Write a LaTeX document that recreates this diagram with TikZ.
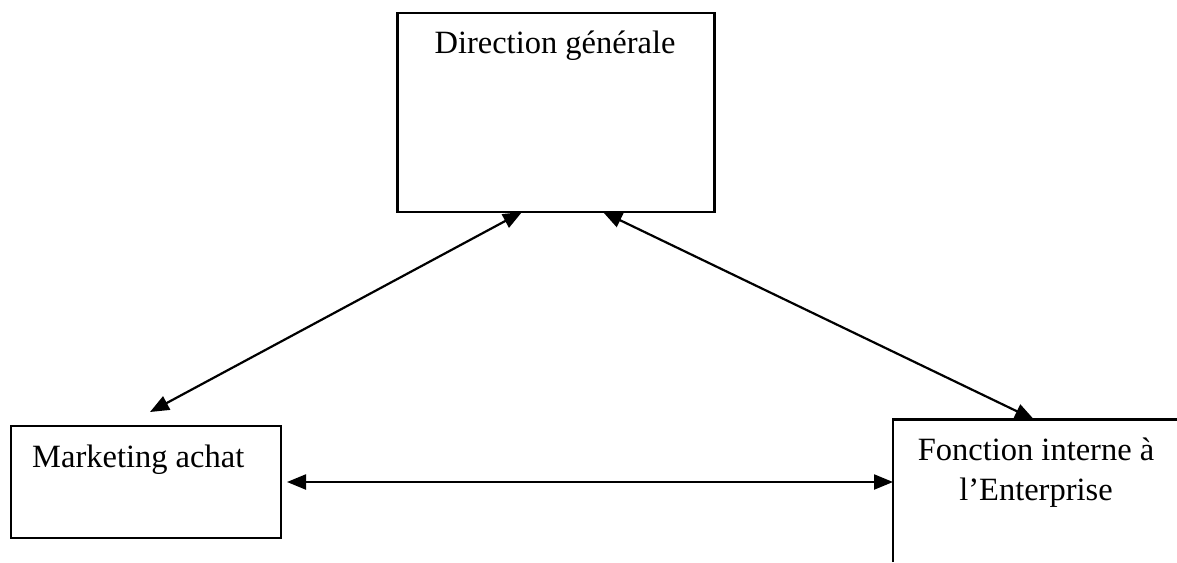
\documentclass[tikz,border=0pt]{standalone}
\usepackage{fontspec}
\setmainfont{Liberation Serif}
\usetikzlibrary{arrows.meta}
\begin{document}
\begin{tikzpicture}[x=1pt,y=-1pt,
  box/.style={draw=black,line width=2.2pt,inner sep=0pt},
  lbl/.style={font=\fontsize{32.5}{40}\selectfont,inner sep=0pt,align=center},
  link/.style={line width=2.2pt,{Triangle[length=19pt,width=15pt]}-{Triangle[length=19pt,width=15pt]}}]
\useasboundingbox (0,0) rectangle (1177,562);
% boxes
\node[box,minimum width=317pt,minimum height=199pt] (dg) at (556,112.5) {};
\node[box,minimum width=270pt,minimum height=112pt] (ma) at (146,482) {};
\coordinate (fbl) at (893,562);
\coordinate (ftl) at (893,419.5);
\coordinate (ftr) at (1177,419.5);
\draw[line width=2.2pt] (fbl) -- (ftl) -- (ftr);
% texts
\node[lbl,anchor=base] (dgt) at (555,53) {Direction générale};
\node[lbl,anchor=base west] (mat) at (32,467) {Marketing achat};
\node[lbl,anchor=base] (fit) at (1036,460) {Fonction interne à};
\node[lbl,anchor=base] (fit2) at (1036,500) {l’Enterprise};
% connector ends
\coordinate (a1) at (522,212);
\coordinate (a2) at (150,412);
\coordinate (b1) at (603,212);
\coordinate (b2) at (1034,419.5);
\coordinate (c1) at (287,482);
\coordinate (c2) at (893,482);
\draw[link] (a2) -- (a1);
\draw[link] (b1) -- (b2);
\draw[link] (c1) -- (c2);
\end{tikzpicture}
\end{document}
